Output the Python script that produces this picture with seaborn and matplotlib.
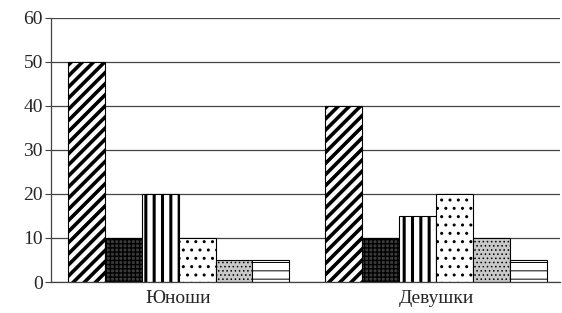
import numpy as np
import pandas as pd
import matplotlib
matplotlib.use('Agg')
import matplotlib.pyplot as plt
import seaborn as sns

# data
groups = ['Юноши', 'Девушки']
series = ['1', '2', '3', '4', '5', '6']
boys = [50, 10, 20, 10, 5, 5]
girls = [40, 10, 15, 20, 10, 5]
y_ticks = [0, 10, 20, 30, 40, 50, 60]

df = pd.DataFrame({
    'Группа': groups[0:1] * len(series) + groups[1:2] * len(series),
    'Ряд': series * 2,
    'Значение': boys + girls,
})

sns.set_style('white')
plt.rcParams['font.family'] = ['Liberation Serif', 'DejaVu Serif']
plt.rcParams['hatch.linewidth'] = 1.0

fig = plt.figure(figsize=(5.62, 3.13), dpi=100)
ax = fig.add_axes([0.091, 0.099, 0.905, 0.845])

sns.barplot(data=df, x='Группа', y='Значение', hue='Ряд', order=groups,
            hue_order=series, palette=['white'] * 6, edgecolor='black',
            linewidth=0.8, width=0.86, ax=ax, legend=False)

# fill style for each series
styles = [
    ('white', '///', 2.6),
    ('#3c3c3c', '++++', 1.0),
    ('white', '||', 2.2),
    ('white', '..', 1.0),
    ('#c8c8c8', '....', 0.6),
    ('white', '--', 0.7),
]
for cont, (fc, hatch, hlw) in zip(ax.containers, styles):
    for bar in cont:
        bar.set_facecolor(fc)
        bar.set_hatch(hatch)
        if hasattr(bar, 'set_hatch_linewidth'):
            bar.set_hatch_linewidth(hlw)

ax.set_ylim(0, 60)
ax.set_xlim(-0.495, 1.48)
ax.set_yticks(y_ticks)
ax.set_yticklabels([str(v) for v in y_ticks], fontsize=14)
ax.set_xticks([0, 1])
ax.set_xticklabels(groups, fontsize=14)
ax.set_xticks([0.5], minor=True)
ax.tick_params(axis='x', which='major', length=0, pad=6)
ax.tick_params(axis='x', which='minor', length=4, width=0.8, color='#444')
ax.tick_params(axis='y', length=4, width=0.8, color='#444', left=True, pad=2)
ax.set_xlabel('')
ax.set_ylabel('')

ax.yaxis.grid(True, color='#444', linewidth=0.9)
ax.set_axisbelow(True)
for side in ['top', 'right']:
    ax.spines[side].set_visible(False)
for side in ['left', 'bottom']:
    ax.spines[side].set_color('#444')
    ax.spines[side].set_linewidth(0.9)

fig.savefig('out.png', dpi=100)
